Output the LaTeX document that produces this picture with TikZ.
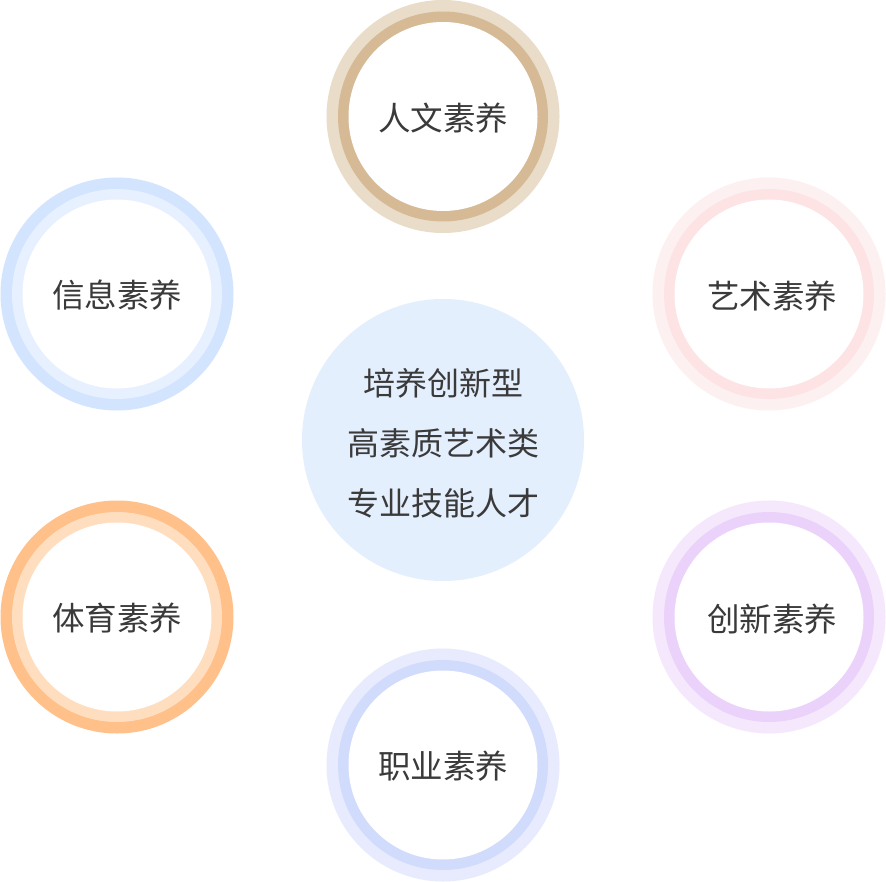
\documentclass[tikz,border=0pt]{standalone}
\usepackage{fontspec}
\setmainfont{Noto Sans CJK SC}
\begin{document}
\begin{tikzpicture}[x=1pt,y=-1pt,
  ringouter/.style={circle,inner sep=0pt,minimum size=233pt},
  ringmid/.style={circle,inner sep=0pt,minimum size=210pt},
  ringinner/.style={circle,inner sep=0pt,minimum size=189pt,fill=white},
  ringlabel/.style={inner sep=0pt,text=txt,font=\fontsize{32.5}{32.5}\selectfont},
  hub/.style={circle,inner sep=0pt,minimum size=282pt,fill=hubfill},
  hublabel/.style={inner sep=0pt,text=txt,align=center,font=\fontsize{32}{60}\selectfont}]
\definecolor{txt}{HTML}{3A3A3A}
\definecolor{hubfill}{HTML}{E4EFFE}
\definecolor{rwo}{HTML}{E9DCC8}\definecolor{rwm}{HTML}{D5BA95}
\definecolor{yso}{HTML}{FDF0F0}\definecolor{ysm}{HTML}{FDE3E4}
\definecolor{xxo}{HTML}{D3E4FE}\definecolor{xxm}{HTML}{E6F0FF}
\definecolor{tyo}{HTML}{FFC08A}\definecolor{tym}{HTML}{FFDEC0}
\definecolor{cxo}{HTML}{F5E8FD}\definecolor{cxm}{HTML}{EBD2FB}
\definecolor{zyo}{HTML}{E7EBFD}\definecolor{zym}{HTML}{D1DBFC}
\useasboundingbox (0,0) rectangle (886,882);
\fill[white] (0,0) rectangle (886,882);
% hub
\node[hub] (hub) at (443,440) {};
\node[hublabel] (hubtext) at ([yshift=-3pt]hub.center) {培养创新型\\高素质艺术类\\专业技能人才};
% 人文
\node[ringouter,fill=rwo] (rwO) at (443,116.5) {};
\node[ringmid,fill=rwm] (rwM) at (rwO.center) {};
\node[ringinner] (rwI) at (rwO.center) {};
\node[ringlabel] (rw) at ([yshift=-1.5pt]rwO.center) {人文素养};
% 信息
\node[ringouter,fill=xxo] (xxO) at (117,294) {};
\node[ringmid,fill=xxm] (xxM) at (xxO.center) {};
\node[ringinner] (xxI) at (xxO.center) {};
\node[ringlabel] (xx) at ([yshift=-1.5pt]xxO.center) {信息素养};
% 艺术
\node[ringouter,fill=yso] (ysO) at (769,294) {};
\node[ringmid,fill=ysm] (ysM) at (ysO.center) {};
\node[ringinner] (ysI) at (ysO.center) {};
\node[ringlabel] (ys) at ([xshift=3pt,yshift=-2.5pt]ysO.center) {艺术素养};
% 体育
\node[ringouter,fill=tyo] (tyO) at (117,617) {};
\node[ringmid,fill=tym] (tyM) at (tyO.center) {};
\node[ringinner] (tyI) at (tyO.center) {};
\node[ringlabel] (ty) at ([yshift=-1.5pt]tyO.center) {体育素养};
% 创新
\node[ringouter,fill=cxo] (cxO) at (769,617) {};
\node[ringmid,fill=cxm] (cxM) at (cxO.center) {};
\node[ringinner] (cxI) at (cxO.center) {};
\node[ringlabel] (cx) at ([xshift=3pt,yshift=-2.5pt]cxO.center) {创新素养};
% 职业
\node[ringouter,fill=zyo] (zyO) at (443,765) {};
\node[ringmid,fill=zym] (zyM) at (zyO.center) {};
\node[ringinner] (zyI) at (zyO.center) {};
\node[ringlabel] (zy) at ([yshift=-1.5pt]zyO.center) {职业素养};
\end{tikzpicture}
\end{document}
